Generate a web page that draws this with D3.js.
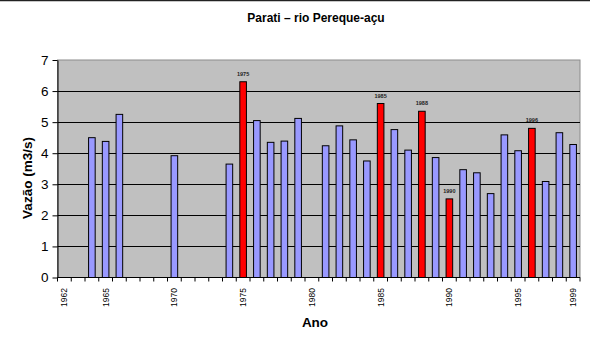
<!DOCTYPE html>
<html>
<head>
<meta charset="utf-8">
<script src="https://cdn.jsdelivr.net/npm/d3@7"></script>
<style>
  body { margin: 0; background: #fff; }
  svg { display: block; font-family: "Liberation Sans", Arial, sans-serif; }
</style>
</head>
<body>
<div id="container"></div>
<script>
const years = [1962, 1963, 1964, 1965, 1966, 1967, 1968, 1969, 1970, 1971, 1972, 1973, 1974,
    1975, 1976, 1977, 1978, 1979, 1980, 1981, 1982, 1983, 1984, 1985, 1986, 1987, 1988,
    1989, 1990, 1991, 1992, 1993, 1994, 1995, 1996, 1997, 1998, 1999];
const flowYears = [1964, 1965, 1966, 1970, 1974, 1975, 1976, 1977, 1978, 1979, 1981, 1982,
    1983, 1984, 1985, 1986, 1987, 1988, 1989, 1990, 1991, 1992, 1993, 1994, 1995, 1996,
    1997, 1998, 1999];
const flowValues = [4.5, 4.38, 5.25, 3.92, 3.65, 6.3, 5.05, 4.35, 4.39, 5.12, 4.24, 4.88,
    4.43, 3.75, 5.6, 4.76, 4.1, 5.35, 3.86, 2.53, 3.47, 3.37, 2.7, 4.59, 4.08, 4.8,
    3.09, 4.66, 4.28];
const highlightYears = [1975, 1985, 1988, 1990, 1996];
const tickYears = [1962, 1965, 1970, 1975, 1980, 1985, 1990, 1995, 1999];
const yTicks = [0, 1, 2, 3, 4, 5, 6, 7];

const W = 590, H = 338;
const plot = { left: 57.5, right: 580, top: 60, bottom: 277.5 };

const svg = d3.select('#container')
    .append('svg')
    .attr('width', W)
    .attr('height', H);

// thin frame line at the top of the picture
svg.append('line')
    .attr('x1', 0).attr('x2', W)
    .attr('y1', 0.5).attr('y2', 0.5)
    .attr('stroke', '#222')
    .attr('stroke-width', 1.5);

const x = d3.scaleBand()
    .domain(years)
    .range([plot.left, plot.right])
    .padding(0);

const y = d3.scaleLinear()
    .domain([0, 7])
    .range([plot.bottom, plot.top]);

// plot area
svg.append('rect')
    .attr('x', plot.left)
    .attr('y', plot.top)
    .attr('width', plot.right - plot.left)
    .attr('height', plot.bottom - plot.top)
    .attr('fill', '#c0c0c0')
    .attr('stroke', '#8c8c8c')
    .attr('stroke-width', 1);

// gridlines
svg.append('g')
    .selectAll('line')
    .data(yTicks.filter(d => d > 0 && d < 7))
    .enter()
    .append('line')
    .attr('x1', plot.left)
    .attr('x2', plot.right)
    .attr('y1', d => Math.round(y(d)) + 0.5)
    .attr('y2', d => Math.round(y(d)) + 0.5)
    .attr('stroke', '#000')
    .attr('stroke-width', 1);

const data = flowYears.map((yr, i) => ({ year: yr, value: flowValues[i], red: highlightYears.includes(yr) }));
const barW = x.bandwidth() * 0.48;

svg.append('g')
    .selectAll('rect')
    .data(data)
    .enter()
    .append('rect')
    .attr('x', d => x(d.year) + (x.bandwidth() - barW) / 2)
    .attr('y', d => y(d.value))
    .attr('width', barW)
    .attr('height', d => y(0) - y(d.value))
    .attr('fill', d => d.red ? '#ff0000' : '#9999ff')
    .attr('stroke', '#000')
    .attr('stroke-width', 1);

// year labels over the highlighted bars
svg.append('g')
    .selectAll('text')
    .data(data.filter(d => d.red))
    .enter()
    .append('text')
    .attr('x', d => x(d.year) + x.bandwidth() / 2)
    .attr('y', d => y(d.value) - 6)
    .attr('text-anchor', 'middle')
    .attr('font-size', 5.5)
    .attr('font-weight', 'bold')
    .attr('fill', '#222')
    .text(d => d.year);

// y axis
const yAxis = svg.append('g')
    .attr('transform', `translate(${plot.left},0)`)
    .call(d3.axisLeft(y).tickValues(yTicks).tickSize(5).tickSizeOuter(0).tickFormat(d3.format('d')));
yAxis.select('.domain').attr('stroke', '#000');
yAxis.selectAll('.tick line').attr('stroke', '#000');
yAxis.selectAll('.tick text')
    .attr('font-size', 13.5)
    .attr('font-family', '"Liberation Sans", Arial, sans-serif')
    .attr('fill', '#000')
    .attr('x', -9);

// x axis: ticks on category boundaries
const xAxisG = svg.append('g');
xAxisG.append('line')
    .attr('x1', plot.left).attr('x2', plot.right)
    .attr('y1', plot.bottom).attr('y2', plot.bottom)
    .attr('stroke', '#000');
xAxisG.selectAll('line.tick')
    .data(years.concat([null]))
    .enter()
    .append('line')
    .attr('class', 'tick')
    .attr('x1', d => d === null ? plot.right : x(d))
    .attr('x2', d => d === null ? plot.right : x(d))
    .attr('y1', plot.bottom)
    .attr('y2', plot.bottom + 4)
    .attr('stroke', '#000');

xAxisG.selectAll('text')
    .data(tickYears)
    .enter()
    .append('text')
    .attr('transform', d => `translate(${x(d) + x.bandwidth() / 2},288) rotate(-90)`)
    .attr('text-anchor', 'end')
    .attr('dy', '0.35em')
    .attr('font-size', 8.5)
    .attr('fill', '#000')
    .text(d => d);

// titles
svg.append('text')
    .attr('x', 316)
    .attr('y', 22)
    .attr('text-anchor', 'middle')
    .attr('font-size', 12)
    .attr('font-weight', 'bold')
    .text('Parati – rio Pereque-açu');

svg.append('text')
    .attr('transform', 'translate(32,178) rotate(-90)')
    .attr('text-anchor', 'middle')
    .attr('font-size', 13.5)
    .attr('font-weight', 'bold')
    .text('Vazão (m3/s)');

svg.append('text')
    .attr('x', 315)
    .attr('y', 327)
    .attr('text-anchor', 'middle')
    .attr('font-size', 13.5)
    .attr('font-weight', 'bold')
    .text('Ano');
</script>
</body>
</html>
